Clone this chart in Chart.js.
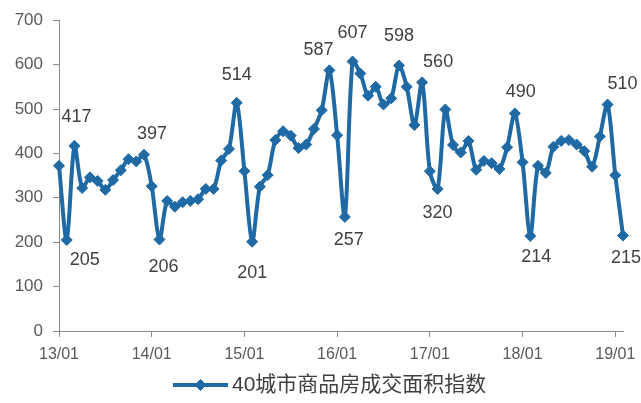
<!DOCTYPE html>
<html>
<head>
<meta charset="utf-8">
<script src="https://cdn.jsdelivr.net/npm/chart.js@4.4.1/dist/chart.umd.min.js"></script>
<style>
  html, body { margin: 0; padding: 0; background: #fff; }
  #wrap { width: 641px; height: 403px; }
</style>
</head>
<body>
<div id="wrap"><canvas id="chart"></canvas></div>
<script>
// monthly points, 2013/01 .. 2019/02
const months = [
  "2013/01", "2013/02", "2013/03", "2013/04", "2013/05", "2013/06", "2013/07", "2013/08", "2013/09", "2013/10", "2013/11", "2013/12",
  "2014/01", "2014/02", "2014/03", "2014/04", "2014/05", "2014/06", "2014/07", "2014/08", "2014/09", "2014/10", "2014/11", "2014/12",
  "2015/01", "2015/02", "2015/03", "2015/04", "2015/05", "2015/06", "2015/07", "2015/08", "2015/09", "2015/10", "2015/11", "2015/12",
  "2016/01", "2016/02", "2016/03", "2016/04", "2016/05", "2016/06", "2016/07", "2016/08", "2016/09", "2016/10", "2016/11", "2016/12",
  "2017/01", "2017/02", "2017/03", "2017/04", "2017/05", "2017/06", "2017/07", "2017/08", "2017/09", "2017/10", "2017/11", "2017/12",
  "2018/01", "2018/02", "2018/03", "2018/04", "2018/05", "2018/06", "2018/07", "2018/08", "2018/09", "2018/10", "2018/11", "2018/12",
  "2019/01", "2019/02",
];

const areaIndex = [
  372, 205, 417, 322, 346, 338, 318, 340, 362, 387, 382, 397,
  326, 206, 293, 280, 290, 293, 297, 320, 320, 384, 410, 514,
  360, 201, 325, 351, 430, 450, 440, 412, 420, 455, 497, 587,
  441, 257, 607, 580, 530, 550, 510, 524, 598, 550, 464, 560,
  360, 320, 499, 419, 402, 428, 363, 383, 378, 365, 414, 490,
  380, 214, 372, 356, 415, 428, 430, 420, 405, 370, 438, 510,
  351, 215,
];

const xTickLabels = ["13/01", "14/01", "15/01", "16/01", "17/01", "18/01", "19/01"];
const yTicks = [0, 100, 200, 300, 400, 500, 600, 700];
const seriesName = "40城市商品房成交面积指数";

// points that carry a value label
const labelled = [1, 2, 11, 13, 23, 25, 35, 37, 38, 44, 47, 49, 59, 61, 71, 73];

// label placement relative to its point (dx, dy)
const labelOffset = {
  1: [18, 20], 2: [2, -29], 11: [8, -21], 13: [4, 27],
  23: [0, -28], 25: [0, 31], 35: [-11, -20], 37: [4, 23],
  38: [0, -28], 44: [0, -29], 47: [16, -20], 49: [0, 24],
  59: [6, -21], 61: [6, 21], 71: [15, -21], 73: [3, 22],
};

const lineColor = "#1f6aa5";
const axisColor = "#898989";
const tickColor = "#595959";
const textColor = "#404040";
const latin = '"Liberation Sans", Arial, sans-serif';

const pointLabels = {
  id: "pointLabels",
  afterDatasetsDraw(chart) {
    const ctx = chart.ctx;
    const meta = chart.getDatasetMeta(0);
    ctx.save();
    ctx.font = "18px " + latin;
    ctx.fillStyle = textColor;
    ctx.textAlign = "center";
    ctx.textBaseline = "middle";
    labelled.forEach((i) => {
      const p = meta.data[i];
      const off = labelOffset[i];
      ctx.fillText(String(areaIndex[i]), p.x + off[0], p.y + off[1]);
    });
    ctx.restore();
  },
};

// legend: line with a diamond, then the series name
const bottomLegend = {
  id: "bottomLegend",
  afterDraw(chart) {
    const ctx = chart.ctx;
    const y = 385;
    const x0 = 173;
    const x1 = 228;
    ctx.save();
    ctx.strokeStyle = lineColor;
    ctx.lineWidth = 4;
    ctx.beginPath();
    ctx.moveTo(x0, y);
    ctx.lineTo(x1, y);
    ctx.stroke();
    ctx.fillStyle = lineColor;
    ctx.lineWidth = 1;
    Chart.helpers.drawPoint(ctx, { pointStyle: "rectRot", radius: 5.5, rotation: 0, borderWidth: 1 }, (x0 + x1) / 2, y);
    ctx.font = '21px "Liberation Sans", "Noto Sans CJK SC", sans-serif';
    ctx.fillStyle = textColor;
    ctx.textAlign = "left";
    ctx.textBaseline = "middle";
    ctx.fillText(seriesName, x1 + 4, y);
    ctx.restore();
  },
};

new Chart(document.getElementById("chart"), {
  type: "line",
  data: {
    labels: months,
    datasets: [
      {
        label: seriesName,
        data: areaIndex.map((v, i) => ({ x: i, y: v })),
        borderColor: lineColor,
        backgroundColor: lineColor,
        borderWidth: 4,
        tension: 0.3,
        clip: false,
        pointStyle: "rectRot",
        pointRadius: 5.5,
        pointBorderWidth: 1,
        pointBackgroundColor: lineColor,
        pointBorderColor: lineColor,
      },
    ],
  },
  options: {
    responsive: true,
    maintainAspectRatio: false,
    animation: false,
    layout: { padding: { top: 20, right: 18, bottom: 37, left: 0 } },
    plugins: {
      legend: { display: false },
      tooltip: { enabled: false },
    },
    scales: {
      x: {
        type: "linear",
        min: 0,
        max: months.length - 1,
        grid: { drawOnChartArea: false, drawTicks: true, tickLength: 6, color: axisColor },
        border: { color: axisColor, width: 1 },
        ticks: {
          stepSize: 12,
          includeBounds: false,
          maxRotation: 0,
          autoSkip: false,
          padding: 8,
          color: tickColor,
          font: { family: latin, size: 16 },
          callback: (value) => (value % 12 === 0 ? xTickLabels[value / 12] : ""),
        },
        afterFit: (scale) => {
          scale.height = 35;
          scale.paddingLeft = 0;
          scale.paddingRight = 0;
        },
      },
      y: {
        min: yTicks[0],
        max: yTicks[yTicks.length - 1],
        grid: { drawOnChartArea: false, drawTicks: true, tickLength: 6, color: axisColor },
        border: { color: axisColor, width: 1 },
        ticks: {
          stepSize: 100,
          padding: 10,
          color: tickColor,
          font: { family: latin, size: 17 },
        },
        afterFit: (scale) => { scale.width = 59; },
      },
    },
  },
  plugins: [pointLabels, bottomLegend],
});
</script>
</body>
</html>
